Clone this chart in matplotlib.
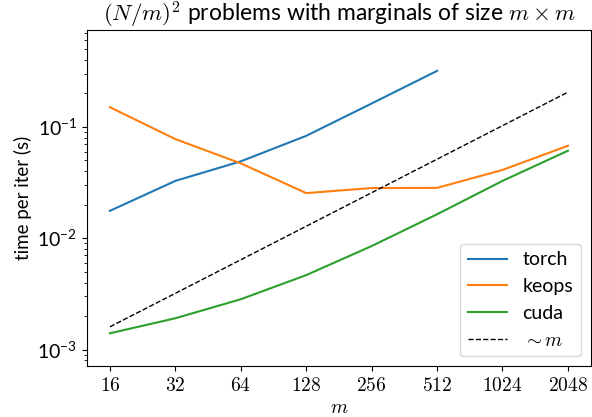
import matplotlib
matplotlib.use("Agg")
import matplotlib.pyplot as plt
from matplotlib.ticker import NullLocator

# Datos
m_vals = [16, 32, 64, 128, 256, 512, 1024, 2048]
torch_m = [16, 32, 64, 128, 256, 512]
torch_t = [0.0176, 0.0327, 0.0490, 0.083, 0.162, 0.318]
keops_t = [0.150, 0.0776, 0.047, 0.0254, 0.0282, 0.0283, 0.041, 0.0676]
cuda_t = [0.0014, 0.00191, 0.00283, 0.00466, 0.0085, 0.0164, 0.0327, 0.061]
ref_t = [0.0016, 0.0032, 0.0064, 0.0128, 0.0256, 0.0512, 0.1024, 0.2048]
xtick_labels = ["16", "32", "64", "128", "256", "512", "1024", "2048"]

plt.rcParams["mathtext.fontset"] = "cm"
plt.rcParams["font.family"] = ["Lato", "DejaVu Sans"]
plt.rcParams["font.size"] = 14

fig = plt.figure(figsize=(5.92, 4.17), dpi=100)
ax = fig.add_axes([0.147, 0.122, 0.851, 0.806])

ax.plot(torch_m, torch_t, label="torch")
ax.plot(m_vals, keops_t, label="keops")
ax.plot(m_vals, cuda_t, label="cuda")
ax.plot(m_vals, ref_t, "k--", linewidth=1, label=r"$\sim m$")

ax.set_xscale("log", base=2)
ax.set_yscale("log")
ax.set_xticks(m_vals)
ax.set_xticklabels([f"${s}$" for s in xtick_labels])
ax.xaxis.set_minor_locator(NullLocator())
ax.set_ylim(7.1e-4, 0.74)

ax.set_xlabel(r"$m$")
ax.set_ylabel("time per iter (s)", fontsize=13.5)
ax.set_title(r"$(N/m)^2$ problems with marginals of size $m\times m$", fontsize=16.5)
ax.legend(loc="lower right")

fig.savefig("out.png", dpi=100)
